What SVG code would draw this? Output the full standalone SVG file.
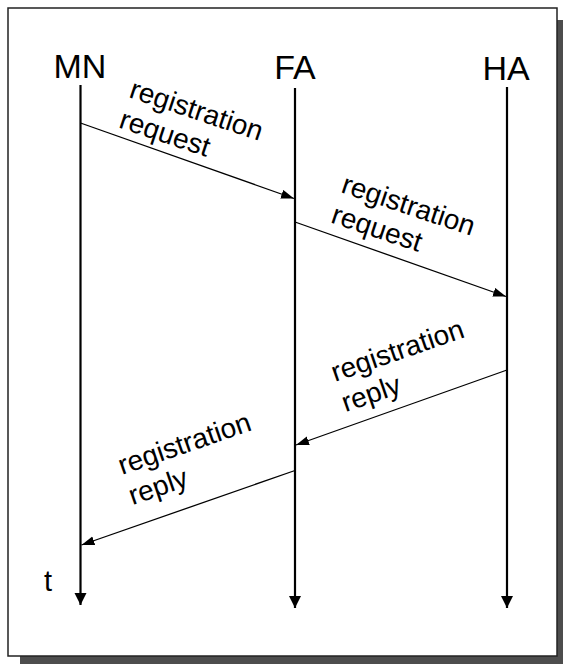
<svg xmlns="http://www.w3.org/2000/svg" width="563" height="664" viewBox="0 0 563 664">
<style>
text{font-family:"Liberation Sans",Arial,sans-serif;fill:#000}
.hdr{font-size:34px}
.lbl{font-size:28px}
.life{stroke:#000;stroke-width:2.2;fill:none}
.msg{stroke:#000;stroke-width:1.3;fill:none}
</style>
<defs>
<marker id="mh" markerUnits="userSpaceOnUse" markerWidth="14" markerHeight="10" refX="13" refY="4.5" orient="auto">
<path d="M0,0 L13,4.5 L0,9 z" fill="#000"/>
</marker>
<marker id="lh" markerUnits="userSpaceOnUse" markerWidth="13" markerHeight="13" refX="12" refY="6" orient="auto">
<path d="M0,0 L12,6 L0,12 z" fill="#000"/>
</marker>
</defs>
<rect x="20" y="20" width="543" height="644" fill="#4d4d4d"/>
<rect x="8" y="8" width="549" height="648" fill="#fff" stroke="#222" stroke-width="1.5"/>
<g id="MN">
<text class="hdr" x="80" y="78" text-anchor="middle">MN</text>
<line class="life" x1="80.5" y1="85" x2="80.5" y2="605" marker-end="url(#lh)"/>
</g>
<g id="FA">
<text class="hdr" x="295" y="79" text-anchor="middle">FA</text>
<line class="life" x1="295" y1="88" x2="295" y2="608" marker-end="url(#lh)"/>
</g>
<g id="HA">
<text class="hdr" x="506" y="80" text-anchor="middle">HA</text>
<line class="life" x1="507" y1="87" x2="507" y2="608" marker-end="url(#lh)"/>
</g>
<text id="t" x="44" y="591" style="font-size:29px">t</text>
<g id="connectors">
<line class="msg" x1="80.5" y1="123" x2="294" y2="198.5" marker-end="url(#mh)"/>
<line class="msg" x1="295" y1="222" x2="506" y2="296.5" marker-end="url(#mh)"/>
<line class="msg" x1="507" y1="370" x2="296" y2="445" marker-end="url(#mh)"/>
<line class="msg" x1="295" y1="470.5" x2="81.5" y2="545" marker-end="url(#mh)"/>
<text class="lbl" transform="translate(128,97) rotate(18.5)"><tspan x="0" y="0">registration</tspan><tspan x="0" y="32">request</tspan></text>
<text class="lbl" transform="translate(340,192) rotate(18.5)"><tspan x="0" y="0">registration</tspan><tspan x="0" y="32">request</tspan></text>
<text class="lbl" transform="translate(335,382) rotate(-19)"><tspan x="0" y="0">registration</tspan><tspan x="0" y="32">reply</tspan></text>
<text class="lbl" transform="translate(122,475) rotate(-19)"><tspan x="0" y="0">registration</tspan><tspan x="0" y="32">reply</tspan></text>
</g>
</svg>
